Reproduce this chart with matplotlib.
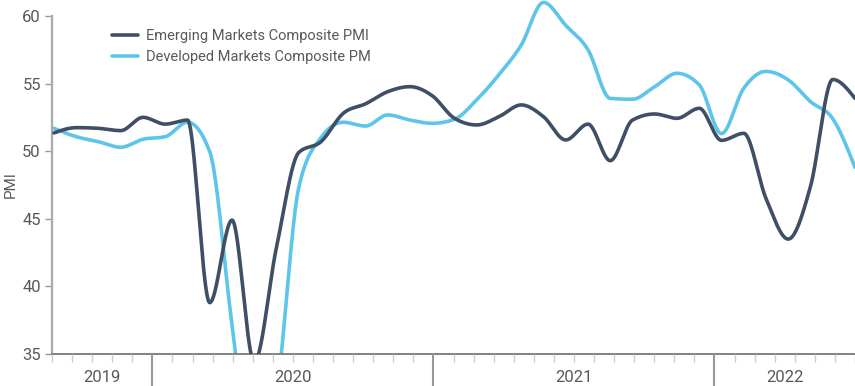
import numpy as np
import matplotlib
matplotlib.use("Agg")
import matplotlib.pyplot as plt
from matplotlib.transforms import blended_transform_factory

plt.rcParams['font.family'] = ['Roboto', 'DejaVu Sans']

# Monthly data, Jul 2019 .. Jul 2022
months = ['Jul-19', 'Aug-19', 'Sep-19', 'Oct-19', 'Nov-19', 'Dec-19',
          'Jan-20', 'Feb-20', 'Mar-20', 'Apr-20', 'May-20', 'Jun-20',
          'Jul-20', 'Aug-20', 'Sep-20', 'Oct-20', 'Nov-20', 'Dec-20',
          'Jan-21', 'Feb-21', 'Mar-21', 'Apr-21', 'May-21', 'Jun-21',
          'Jul-21', 'Aug-21', 'Sep-21', 'Oct-21', 'Nov-21', 'Dec-21',
          'Jan-22', 'Feb-22', 'Mar-22', 'Apr-22', 'May-22', 'Jun-22', 'Jul-22']

em_pmi = [51.35, 51.74, 51.69, 51.52, 52.5, 52.0,
          52.3, 38.8, 44.9, 34.4, 42.9, 49.9,
          50.7, 52.8, 53.5, 54.4, 54.77, 54.1,
          52.43, 51.94, 52.55, 53.42, 52.55, 50.83,
          52.0, 49.3, 52.3, 52.75, 52.43, 53.17,
          50.8, 51.32, 46.5, 43.5, 47.4, 55.3, 53.9]

dm_pmi = [51.69, 51.07, 50.7, 50.29, 50.88, 51.07,
          52.14, 49.96, 37.2, 26.0, 32.0, 47.3,
          51.0, 52.14, 51.86, 52.68, 52.3, 52.06,
          52.36, 53.8, 55.66, 57.85, 61.0, 59.3,
          57.5, 53.9, 53.84, 54.77, 55.76, 54.9,
          51.3, 54.65, 55.9, 55.27, 53.66, 52.4, 48.8]

series_labels = ['Emerging Markets Composite PMI', 'Developed Markets Composite PM']
y_ticks = [35, 40, 45, 50, 55, 60]
year_labels = ['2019', '2020', '2021', '2022']

EM_COLOR = '#3f4f66'
DM_COLOR = '#5ec5ea'
TEXT = '#595959'


def monotone_curve(x, y, per_seg=60):
    """Monotone cubic (Fritsch-Carlson style, as d3.curveMonotoneX)."""
    x = np.asarray(x, float)
    y = np.asarray(y, float)
    n = len(x)
    h = np.diff(x)
    s = np.diff(y) / h
    t = np.zeros(n)
    for i in range(1, n - 1):
        p = (s[i - 1] * h[i] + s[i] * h[i - 1]) / (h[i - 1] + h[i])
        t[i] = (np.sign(s[i - 1]) + np.sign(s[i])) * min(abs(s[i - 1]), abs(s[i]), 0.5 * abs(p))
    t[0] = (3 * s[0] - t[1]) / 2
    t[-1] = (3 * s[-1] - t[-2]) / 2
    xs, ys = [], []
    for i in range(n - 1):
        u = np.linspace(0, 1, per_seg, endpoint=(i == n - 2))
        h00 = 2 * u ** 3 - 3 * u ** 2 + 1
        h10 = u ** 3 - 2 * u ** 2 + u
        h01 = -2 * u ** 3 + 3 * u ** 2
        h11 = u ** 3 - u ** 2
        xs.append(x[i] + u * h[i])
        ys.append(h00 * y[i] + h10 * h[i] * t[i] + h01 * y[i + 1] + h11 * h[i] * t[i + 1])
    return np.concatenate(xs), np.concatenate(ys)


fig = plt.figure(figsize=(8.55, 3.86), dpi=100)
ax = fig.add_axes([52 / 855, 32 / 386, 803 / 855, 354 / 386])

xi = np.arange(len(months))
xs, ys_em = monotone_curve(xi, em_pmi)
_, ys_dm = monotone_curve(xi, dm_pmi)
ax.plot(xs, ys_em, color=EM_COLOR, lw=2.6, label=series_labels[0], solid_capstyle='round', zorder=3)
ax.plot(xs, ys_dm, color=DM_COLOR, lw=2.6, label=series_labels[1], solid_capstyle='round', zorder=2)

ax.set_xlim(-2 / 22.25, len(months) - 1)
ax.set_ylim(35, 61.18)
ax.set_yticks(y_ticks)
ax.set_yticklabels([str(v) for v in y_ticks])
ax.tick_params(axis='y', length=5, width=1, color='#999999', labelcolor=TEXT, labelsize=12, pad=3)
ax.set_xticks([])
for s in ['top', 'right']:
    ax.spines[s].set_visible(False)
ax.spines['left'].set_bounds(35, 60)
ax.spines['left'].set_color('#aaaaaa')
ax.spines['left'].set_linewidth(1.6)
ax.spines['bottom'].set_color('#777777')
ax.spines['bottom'].set_linewidth(1.3)
ax.set_ylabel('PMI', color=TEXT, fontsize=11)
ax.yaxis.set_label_coords(-34 / 803, (354 - 185) / 354)

# Year axis (bottom)
ax2 = ax.twiny()
ax2.set_xlim(2020 - 5 / 14, 2020 + 35 / 14)
ax2.xaxis.set_ticks_position('bottom')
for s in ax2.spines.values():
    s.set_visible(False)
ax2.set_xticks([2020, 2021, 2022])
ax2.set_xticklabels([])
minor = [2020 + k / 14 for k in range(-5, 36) if k % 14 != 0]
ax2.set_xticks(minor, minor=True)
ax2.tick_params(axis='x', which='major', length=26, width=1.5, color='#999999')
ax2.tick_params(axis='x', which='minor', length=6, width=1, color='#cccccc')
trans = blended_transform_factory(ax2.transData, ax2.transAxes)
year_pos = [(2020 - 5 / 14 + 2020) / 2, 2020.5, 2021.5, (2022 + 2020 + 35 / 14) / 2]
for lab, p in zip(year_labels, year_pos):
    ax2.text(p, -23 / 354, lab, transform=trans, ha='center', va='center', fontsize=12, color=TEXT)

leg = ax.legend(loc='upper left', bbox_to_anchor=(112 / 855, 1 - 29 / 386), bbox_transform=fig.transFigure,
                frameon=False, fontsize=10.5, handlelength=1.75, handletextpad=0.55, labelspacing=0.5,
                borderaxespad=0, borderpad=0)
for t in leg.get_texts():
    t.set_color(TEXT)

fig.savefig('out.png', dpi=100)
